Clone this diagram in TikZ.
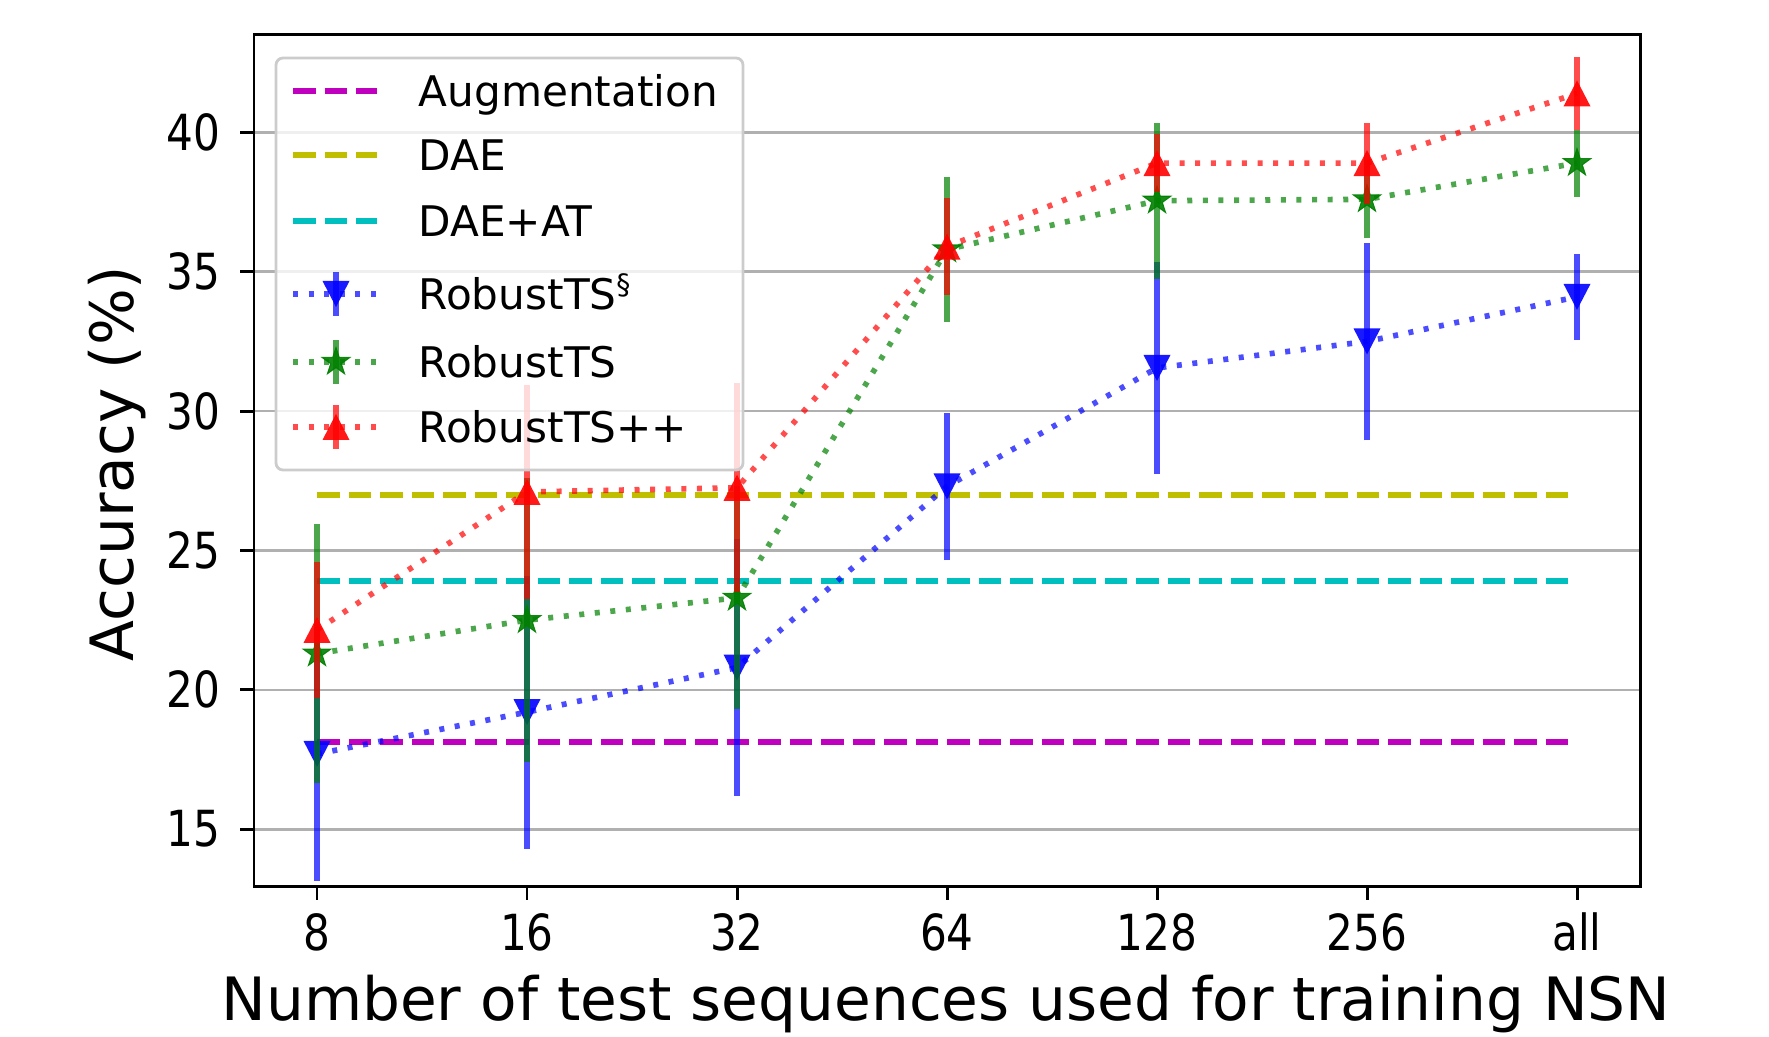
\documentclass[tikz,border=0pt]{standalone}
\usepackage{fontspec}
\setmainfont{DejaVu Sans}
\usetikzlibrary{shapes.geometric}
\definecolor{mplm}{rgb}{0.75,0,0.75}
\definecolor{mply}{rgb}{0.75,0.75,0}
\definecolor{mplc}{rgb}{0,0.75,0.75}
\definecolor{mplg}{rgb}{0,0.5,0}
\definecolor{gridgray}{HTML}{B0B0B0}
\definecolor{legedge}{HTML}{CCCCCC}
\newcommand{\ticktext}[1]{\scalebox{1}[1.18]{#1}}
% mean / error per budget (8,16,32,64,128,256,all)
\def\bluedata{0/17.7/4.55, 1/19.2/4.9, 2/20.8/4.6, 3/27.3/2.65, 4/31.55/3.8, 5/32.5/3.55, 6/34.1/1.55}
\def\greendata{0/21.3/4.65, 1/22.5/5.1, 2/23.3/4.0, 3/35.8/2.6, 4/37.55/2.8, 5/37.6/1.4, 6/38.9/1.2}
\def\reddata{0/22.15/2.45, 1/27.1/3.85, 2/27.25/3.75, 3/35.9/1.75, 4/38.9/1.05, 5/38.9/1.45, 6/41.4/1.3}
\begin{document}
\begin{tikzpicture}[
    spine/.style={line width=0.85pt},
    gridline/.style={gridgray, line width=0.75pt},
    refline/.style={line width=1.6pt, dash pattern=on 0.225cm off 0.09cm},
    series/.style={line width=1.6pt, dash pattern=on 0.05cm off 0.106cm, opacity=0.7},
    errbar/.style={line width=1.7pt, opacity=0.7},
    ticklab/.style={font=\fontsize{12}{14}\selectfont, inner sep=0pt},
    leglab/.style={font=\fontsize{12}{14}\selectfont, inner sep=0pt, anchor=base west},
    axlab/.style={font=\fontsize{17}{20}\selectfont, inner sep=0pt, anchor=base},
    starmk/.style={star, star points=5, star point ratio=2.618, minimum size=0.29cm,
                   inner sep=0pt, fill=mplg, draw=mplg, line width=0.3pt, opacity=0.9},
    tri up/.pic={\fill (-0.135cm,-0.13cm) -- (0.135cm,-0.13cm) -- (0cm,0.13cm) -- cycle;},
    tri down/.pic={\fill (-0.135cm,0.13cm) -- (0.135cm,0.13cm) -- (0cm,-0.13cm) -- cycle;},
  ]
  \useasboundingbox (0,0) rectangle (17.69,10.36);

  \begin{scope}[shift={(3.17cm,-2.1125cm)}, x=2.1cm, y=0.2787cm]
    % horizontal grid
    \foreach \v in {15,20,...,40}
      \draw[gridline] (-0.3,\v) -- (6.3,\v);

    % baselines
    \draw[refline, mplm] (0,18.13) -- (6,18.13);
    \draw[refline, mply] (0,27.0) -- (6,27.0);
    \draw[refline, mplc] (0,23.9) -- (6,23.9);

    % RobustTS (section) - blue
    \foreach \i/\v/\e in \bluedata
      \coordinate (b\i) at (\i,\v);
    \draw[series, blue] (b0) \foreach \i in {1,...,6} { -- (b\i) };
    \foreach \i/\v/\e in \bluedata
      \draw[errbar, blue] (\i,{\v-\e}) -- (\i,{\v+\e});
    \foreach \i in {0,...,6}
      \pic[blue, opacity=0.9] at (b\i) {tri down};

    % RobustTS - green
    \foreach \i/\v/\e in \greendata
      \coordinate (g\i) at (\i,\v);
    \draw[series, mplg] (g0) \foreach \i in {1,...,6} { -- (g\i) };
    \foreach \i/\v/\e in \greendata
      \draw[errbar, mplg] (\i,{\v-\e}) -- (\i,{\v+\e});
    \foreach \i in {0,...,6}
      \node[starmk] (gs\i) at (g\i) {};

    % RobustTS++ - red
    \foreach \i/\v/\e in \reddata
      \coordinate (r\i) at (\i,\v);
    \draw[series, red] (r0) \foreach \i in {1,...,6} { -- (r\i) };
    \foreach \i/\v/\e in \reddata
      \draw[errbar, red] (\i,{\v-\e}) -- (\i,{\v+\e});
    \foreach \i in {0,...,6}
      \pic[red, opacity=0.9] at (r\i) {tri up};

    % axes frame and ticks
    \draw[spine] (-0.3,12.96) rectangle (6.3,43.53);
    \foreach \i/\t in {0/8,1/16,2/32,3/64,4/128,5/256,6/all} {
      \draw[spine] (\i,12.96) -- ++(0,-0.14cm);
      \node[ticklab, anchor=base, yshift=-0.64cm] (xt\i) at (\i,12.96) {\ticktext{\t}};
    }
    \foreach \v in {15,20,...,40} {
      \draw[spine] (-0.3,\v) -- ++(-0.14cm,0);
      \node[ticklab, anchor=east, xshift=-0.33cm] (yt\v) at (-0.3,\v) {\ticktext{\v}};
    }
  \end{scope}

  % axis labels
  \node[axlab] (xlab) at (9.46,0.15) {Number of test sequences used for training NSN};
  \node[axlab, rotate=90] (ylab) at (1.33,5.725) {Accuracy (\%)};

  % legend
  \draw[legedge, line width=0.8pt, fill=white, fill opacity=0.8, rounded corners=0.07cm]
    (2.76,5.66) rectangle (7.43,9.78);
  \draw[refline, mplm] (2.93,9.45) -- (3.77,9.45);
  \node[leglab] (lAug) at (4.18,9.29) {Augmentation};
  \draw[refline, mply] (2.93,8.81) -- (3.77,8.81);
  \node[leglab] (lDAE) at (4.18,8.65) {DAE};
  \draw[refline, mplc] (2.93,8.15) -- (3.77,8.15);
  \node[leglab] (lDAT) at (4.18,7.99) {DAE+AT};
  \draw[series, blue] (2.93,7.42) -- (3.77,7.42);
  \draw[errbar, blue] (3.36,7.20) -- (3.36,7.64);
  \pic[blue, opacity=0.9] at (3.36,7.42) {tri down};
  \node[leglab] (lRS) at (4.18,7.26) {RobustTS\textsuperscript{\S}};
  \draw[series, mplg] (2.93,6.74) -- (3.77,6.74);
  \draw[errbar, mplg] (3.36,6.52) -- (3.36,6.96);
  \node[starmk] (lgs) at (3.36,6.74) {};
  \node[leglab] (lR) at (4.18,6.58) {RobustTS};
  \draw[series, red] (2.93,6.09) -- (3.77,6.09);
  \draw[errbar, red] (3.36,5.87) -- (3.36,6.31);
  \pic[red, opacity=0.9] at (3.36,6.09) {tri up};
  \node[leglab] (lRpp) at (4.18,5.93) {RobustTS++};
\end{tikzpicture}
\end{document}
